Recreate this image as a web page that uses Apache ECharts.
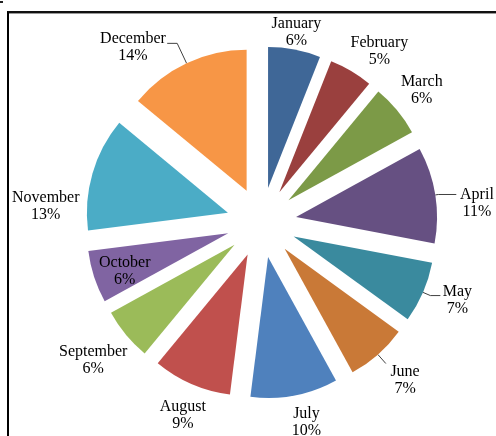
<!DOCTYPE html>
<html>
<head>
<meta charset="utf-8">
<script src="https://cdn.jsdelivr.net/npm/echarts@6/dist/echarts.min.js"></script>
<style>
  html, body { margin: 0; padding: 0; background: #fff; }
  #frame { position: absolute; left: 7px; top: 11px; width: 600px; height: 600px;
           border-top: 2px solid #111; border-left: 2px solid #000; box-shadow: inset 0 1px 0 #999; }
  #tick { position: absolute; left: 0; top: 1px; width: 3px; height: 2px; background: #222; }
  #chart { position: absolute; left: 0; top: 0; width: 496px; height: 436px; }
</style>
</head>
<body>
<div id="tick"></div>
<div id="frame"></div>
<div id="chart"></div>
<script>
const months = ['January','February','March','April','May','June','July','August','September','October','November','December'];
const shares = [6, 5, 6, 11, 7, 7, 10, 9, 6, 6, 13, 14];
const leaderMonths = ['December','April','May','June'];
const insideMonths = ['October'];

const palette = ['#3F6797','#9A403E','#7C9A47','#665082','#3A8A9E','#C97937',
                 '#4F81BD','#C0504D','#9BBB59','#8064A2','#4BACC6','#F79646'];
const leaderLens = { December: [22, 10], April: [3, 18], May: [8, 10], June: [12, 0] };
// small label nudges (layout only), mimicking the spreadsheet's label placement
const labelNudge = { January: [-4, 14], February: [12, 8], April: [10, 13], May: [5, -5], June: [6, 2],
                     July: [6, -5], August: [4, 2], September: [-8, 5], October: [4, 3],
                     November: [-16, 42], December: [-40, 13] };

const chart = echarts.init(document.getElementById('chart'), null, { renderer: 'canvas' });
const center = [261.5, 222.5];
const labelFont = { fontFamily: 'Liberation Serif, Times New Roman, serif', fontSize: 16, lineHeight: 17, color: '#000' };

const mainData = months.map((m, i) => {
  const item = {
    name: m, value: shares[i], selected: true,
    itemStyle: { color: palette[i] },
    select: { itemStyle: { color: palette[i] } }
  };
  if (leaderMonths.includes(m)) {
    item.label = { show: true, formatter: ' ' };
    item.labelLine = { show: true, length: leaderLens[m][0], length2: leaderLens[m][1] };
  }
  return item;
});

const ringData = (showList, hideList) => months.map((m, i) => ({
  name: m, value: shares[i],
  label: { show: showList ? showList.includes(m) : !hideList.includes(m) }
}));

const nudge = function (p) {
  const n = labelNudge[months[p.dataIndex]];
  return n ? { dx: n[0], dy: n[1] } : {};
};

const ghost = {
  type: 'pie', center: center, startAngle: 90, clockwise: true,
  silent: true, avoidLabelOverlap: false, animation: false,
  itemStyle: { color: 'rgba(0,0,0,0)' },
  emphasis: { disabled: true },
  labelLine: { show: false },
  label: Object.assign({ position: 'inside', formatter: '{b}\n{c}%', textBorderWidth: 0 }, labelFont),
  labelLayout: nudge,
  tooltip: { show: false }
};

chart.setOption({
  animation: false,
  series: [
    {
      type: 'pie', center: center, radius: [0, 141], startAngle: 90, clockwise: true,
      selectedMode: 'multiple', selectedOffset: 35,
      avoidLabelOverlap: false,
      emphasis: { disabled: true },
      label: { show: false, position: 'outside' },
      labelLine: { show: false, smooth: false, lineStyle: { color: '#404040', width: 1 } },
      itemStyle: { borderWidth: 0 },
      data: mainData
    },
    Object.assign({}, ghost, { radius: [188, 222], data: ringData(null, insideMonths) }),
    Object.assign({}, ghost, { radius: [128, 162], data: ringData(insideMonths, null) })
  ]
});
</script>
</body>
</html>
